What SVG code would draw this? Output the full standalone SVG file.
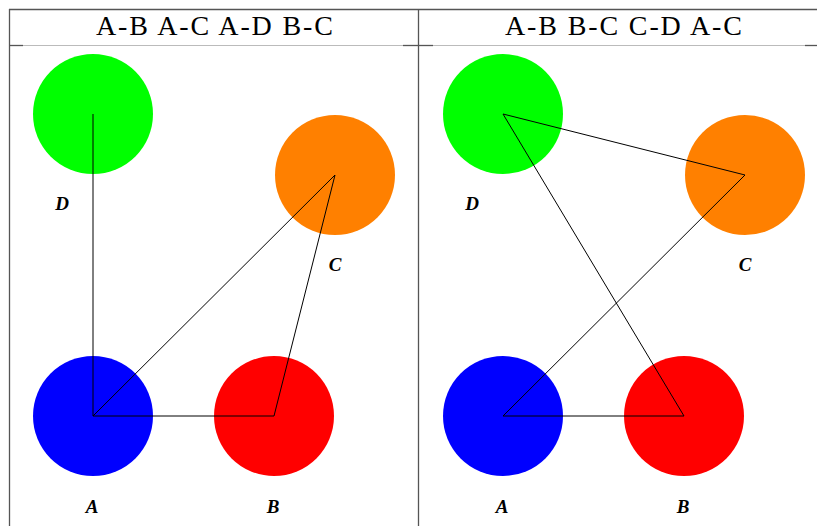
<svg xmlns="http://www.w3.org/2000/svg" width="817" height="526" viewBox="0 0 817 526">
<style>
.frame{stroke:#555;stroke-width:1.3;fill:none}
.sep{stroke:#bbb;stroke-width:1.2}
.hdr{font-family:"Liberation Serif","DejaVu Serif",serif;font-size:28px;fill:#000;text-anchor:middle}
.lbl{font-family:"Liberation Serif","DejaVu Serif",serif;font-size:19px;font-weight:bold;font-style:italic;fill:#000;text-anchor:middle}
.edge{stroke:#000;stroke-width:1;fill:none}
</style>
<rect width="817" height="526" fill="#fff"/>
<g id="frame">
<line class="frame" x1="9" y1="9.5" x2="817" y2="9.5"/>
<line class="frame" x1="9.5" y1="9" x2="9.5" y2="526"/>
<line class="frame" x1="418.5" y1="9" x2="418.5" y2="526"/>
<line class="sep" x1="23" y1="45.5" x2="403" y2="45.5"/>
<line class="sep" x1="433" y1="45.5" x2="805" y2="45.5"/>
<line class="frame" x1="9" y1="45.5" x2="23" y2="45.5"/>
<line class="frame" x1="403" y1="45.5" x2="433" y2="45.5"/>
<line class="frame" x1="805" y1="45.5" x2="817" y2="45.5"/>
<text class="hdr" x="214.5" y="35" textLength="237" lengthAdjust="spacing">A-B A-C A-D B-C</text>
<text class="hdr" x="623.5" y="35" textLength="237" lengthAdjust="spacing">A-B B-C C-D A-C</text>
</g>
<g id="left-D"><circle cx="93" cy="114" r="60" fill="#00ff00"/><text class="lbl" x="62" y="210">D</text></g>
<g id="left-C"><circle cx="335" cy="175" r="60" fill="#ff8000"/><text class="lbl" x="335" y="271">C</text></g>
<g id="left-A"><circle cx="93" cy="416" r="60" fill="#0000ff"/><text class="lbl" x="92" y="513">A</text></g>
<g id="left-B"><circle cx="274" cy="416" r="60" fill="#ff0000"/><text class="lbl" x="273" y="513">B</text></g>
<g id="right-D"><circle cx="503" cy="114" r="60" fill="#00ff00"/><text class="lbl" x="472" y="210">D</text></g>
<g id="right-C"><circle cx="745" cy="175" r="60" fill="#ff8000"/><text class="lbl" x="745" y="271">C</text></g>
<g id="right-A"><circle cx="503" cy="416" r="60" fill="#0000ff"/><text class="lbl" x="502" y="513">A</text></g>
<g id="right-B"><circle cx="684" cy="416" r="60" fill="#ff0000"/><text class="lbl" x="683" y="513">B</text></g>
<g id="connectors">
<line class="edge" x1="93" y1="416" x2="274" y2="416"/>
<line class="edge" x1="93" y1="416" x2="335" y2="175"/>
<line class="edge" x1="93" y1="416" x2="93" y2="114"/>
<line class="edge" x1="274" y1="416" x2="335" y2="175"/>
<line class="edge" x1="503" y1="416" x2="684" y2="416"/>
<line class="edge" x1="503" y1="114" x2="684" y2="416"/>
<line class="edge" x1="503" y1="114" x2="745" y2="175"/>
<line class="edge" x1="503" y1="416" x2="745" y2="175"/>
</g>
</svg>
